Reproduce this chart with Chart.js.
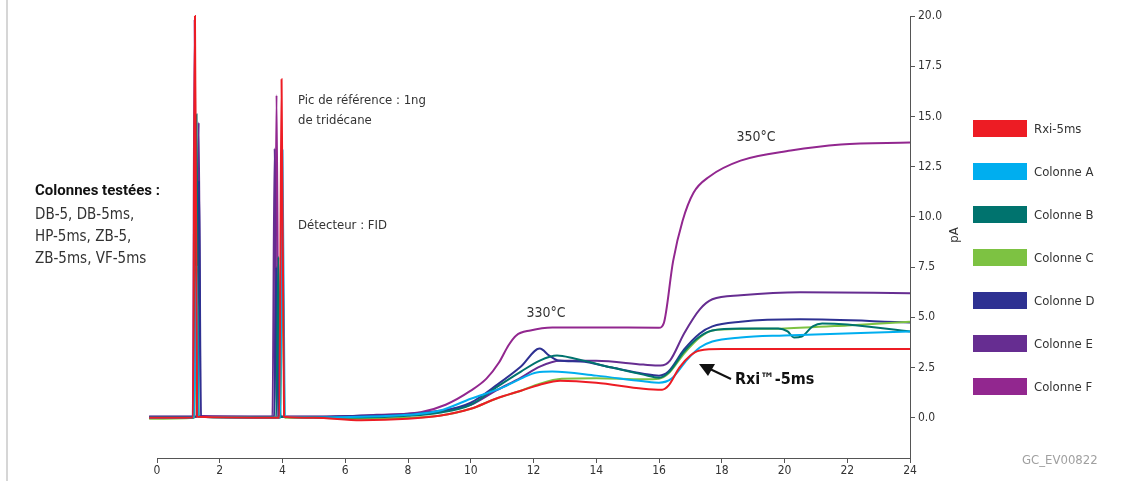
<!DOCTYPE html>
<html>
<head>
<meta charset="utf-8">
<script src="https://cdn.jsdelivr.net/npm/chart.js@4.4.1/dist/chart.umd.min.js"></script>
<style>
  html, body { margin: 0; padding: 0; background: #fff; overflow: hidden; }
  #chrom { display: block; }
</style>
</head>
<body>
<canvas id="chrom" width="1142" height="481"></canvas>
<script>
// time (min), signal (pA)
const rxi5ms = [
  [-0.25, 0.0], [1.15, 0.02], [1.21, 20.0], [1.28, 0.05], [3.9, 0.0], [3.97, 16.85], [4.05, 0.05],
  [5, 0.0], [6.5, -0.12], [8, -0.05], [9, 0.1], [10, 0.45], [10.8, 0.95], [11.6, 1.35], [12.2, 1.65],
  [12.85, 1.85], [14, 1.75], [15.5, 1.45], [16.1, 1.4], [16.3, 1.6], [16.65, 2.5], [17.0, 3.1],
  [17.3, 3.35], [18, 3.42], [20, 3.42], [24, 3.42]
];
const colonneA = [
  [-0.25, 0.0], [1.18, 0.02], [1.26, 7.6], [1.32, 0.05], [3.93, 0.0], [4.0, 13.3], [4.07, 0.05],
  [5, 0.02], [6.5, 0.05], [8, 0.15], [9, 0.35], [10, 0.95], [11, 1.5], [11.6, 1.95], [12.1, 2.26],
  [12.6, 2.3], [14, 2.1], [15.5, 1.82], [16.0, 1.75], [16.4, 1.95], [16.9, 2.9], [17.3, 3.5],
  [17.7, 3.8], [18.6, 4.0], [20, 4.1], [24, 4.3]
];
const colonneB = [
  [-0.25, 0.0], [1.18, 0.02], [1.26, 15.1], [1.32, 0.05], [3.8, 0.0], [3.87, 8.0], [3.94, 0.05],
  [5, 0.02], [6.5, 0.02], [8, 0.1], [9, 0.25], [10, 0.65], [10.8, 1.5], [11.6, 2.3], [12.2, 2.85],
  [12.75, 3.1], [13.3, 2.95], [14.5, 2.5], [15.5, 2.15], [16.0, 2.0], [16.3, 2.25], [16.8, 3.3],
  [17.3, 4.05], [17.7, 4.35], [18.6, 4.45], [19.8, 4.45], [20.1, 4.3], [20.3, 4.0], [20.55, 4.05],
  [20.9, 4.55], [21.2, 4.7], [22, 4.65], [24, 4.3]
];
const colonneC = [
  [-0.25, -0.05], [1.19, 0.0], [1.27, 7.0], [1.33, 0.05], [3.93, 0.0], [4.0, 8.0], [4.07, 0.0],
  [5, 0.0], [6.5, -0.05], [8, 0.0], [9, 0.1], [10, 0.45], [10.8, 0.95], [11.6, 1.35], [12.2, 1.7],
  [12.9, 1.94], [14, 1.97], [15.5, 1.92], [16.0, 1.95], [16.3, 2.2], [16.8, 3.2], [17.3, 4.0],
  [17.7, 4.35], [18.6, 4.42], [20, 4.45], [22, 4.6], [24, 4.78]
];
const colonneD = [
  [-0.25, 0.05], [1.27, 0.05], [1.34, 11.8], [1.4, 0.05], [3.74, 0.05], [3.8, 7.5], [3.87, 0.05],
  [5, 0.05], [6.5, 0.1], [8, 0.15], [9, 0.3], [10, 0.75], [10.8, 1.6], [11.6, 2.55], [12.2, 3.45],
  [12.5, 3.1], [12.8, 2.85], [13.5, 2.8], [14.5, 2.5], [15.5, 2.2], [16.0, 2.1], [16.3, 2.3],
  [16.8, 3.4], [17.3, 4.2], [17.7, 4.55], [18.6, 4.78], [20.5, 4.9], [24, 4.75]
];
const colonneE = [
  [-0.25, 0.05], [1.26, 0.05], [1.33, 14.7], [1.39, 0.05], [3.68, 0.05], [3.75, 13.4], [3.82, 0.05],
  [5, 0.05], [6.5, 0.1], [8, 0.2], [9, 0.35], [10, 0.65], [10.8, 1.35], [11.6, 2.0], [12.2, 2.55],
  [12.85, 2.84], [14, 2.84], [15.5, 2.65], [16.05, 2.6], [16.35, 2.85], [16.8, 4.2], [17.3, 5.4],
  [17.7, 5.9], [18.6, 6.1], [20.5, 6.25], [24, 6.2]
];
const colonneF = [
  [-0.25, 0.05], [1.14, 0.05], [1.2, 19.8], [1.27, 0.1], [3.74, 0.05], [3.81, 16.05], [3.88, 0.05],
  [5, 0.05], [7, 0.15], [8.4, 0.28], [9.2, 0.65], [10, 1.35], [10.5, 1.95], [10.9, 2.75], [11.2, 3.6],
  [11.45, 4.1], [11.9, 4.35], [12.6, 4.5], [14, 4.5], [16.0, 4.48], [16.15, 4.7], [16.45, 7.8],
  [16.75, 9.8], [17.1, 11.2], [17.6, 12.0], [18.6, 12.8], [20.2, 13.3], [21.8, 13.6], [24, 13.7]
];

const seriesNames = ["Rxi-5ms", "Colonne A", "Colonne B", "Colonne C", "Colonne D", "Colonne E", "Colonne F"];
const seriesData = [rxi5ms, colonneA, colonneB, colonneC, colonneD, colonneE, colonneF];
const seriesColors = ["#ed1c24", "#00aeef", "#00736e", "#7dc242", "#2e3192", "#662d91", "#92278f"];
const yTicks = [0, 2.5, 5, 7.5, 10, 12.5, 15, 17.5, 20];

const FONT = '"Liberation Sans Narrow", "DejaVu Sans Condensed", "Roboto Condensed", "DejaVu Sans", sans-serif';
const BOLD_FONT = 'Roboto, "Liberation Sans", sans-serif';

const overlay = {
  id: "overlay",
  afterDraw(chart) {
    const ctx = chart.ctx;
    ctx.save();

    // thin frame line on the left edge
    ctx.strokeStyle = "#c8c8c8";
    ctx.lineWidth = 1.5;
    ctx.beginPath();
    ctx.moveTo(7, 0);
    ctx.lineTo(7, 481);
    ctx.stroke();

    ctx.fillStyle = "#333";
    ctx.textBaseline = "middle";
    ctx.textAlign = "left";

    ctx.font = "13px " + FONT;
    ctx.fillText("Pic de référence : 1ng", 298, 101);
    ctx.fillText("de tridécane", 298, 121);
    ctx.fillText("Détecteur : FID", 298, 226);

    ctx.font = "bold 15px " + BOLD_FONT;
    ctx.fillStyle = "#111";
    ctx.fillText("Colonnes testées :", 35, 191);
    ctx.font = "15px " + FONT;
    ctx.fillStyle = "#333";
    ctx.fillText("DB-5, DB-5ms,", 35, 215);
    ctx.fillText("HP-5ms, ZB-5,", 35, 237);
    ctx.fillText("ZB-5ms, VF-5ms", 35, 259);

    ctx.font = "14px " + FONT;
    ctx.textAlign = "center";
    ctx.fillText("330°C", 546, 313);
    ctx.fillText("350°C", 756, 137);

    // arrow pointing to the Rxi-5ms trace
    ctx.strokeStyle = "#111";
    ctx.fillStyle = "#111";
    ctx.lineWidth = 2;
    ctx.beginPath();
    ctx.moveTo(731, 379);
    ctx.lineTo(710, 369);
    ctx.stroke();
    ctx.beginPath();
    ctx.moveTo(699, 364);
    ctx.lineTo(715, 364);
    ctx.lineTo(708, 376);
    ctx.closePath();
    ctx.fill();
    ctx.font = "bold 16px " + FONT;
    ctx.textAlign = "left";
    ctx.fillText("Rxi™-5ms", 735, 380);

    // legend
    ctx.font = "13px " + FONT;
    chart.data.datasets.forEach((ds, i) => {
      const cy = 128.5 + i * 43;
      ctx.fillStyle = ds.borderColor;
      ctx.fillRect(973, cy - 8.5, 54, 17);
      ctx.fillStyle = "#333";
      ctx.fillText(ds.label, 1034, cy + 1);
    });

    // y axis title
    ctx.save();
    ctx.translate(955, 235);
    ctx.rotate(-Math.PI / 2);
    ctx.textAlign = "center";
    ctx.font = "13px " + FONT;
    ctx.fillStyle = "#333";
    ctx.fillText("pA", 0, 0);
    ctx.restore();

    ctx.font = "13px " + FONT;
    ctx.fillStyle = "#a0a0a0";
    ctx.fillText("GC_EV00822", 1022, 461);

    ctx.restore();
  }
};

new Chart(document.getElementById("chrom").getContext("2d"), {
  type: "line",
  data: {
    datasets: seriesData.map((pts, i) => ({
      label: seriesNames[i],
      data: pts.map(([x, y]) => ({ x, y })),
      borderColor: seriesColors[i],
      backgroundColor: seriesColors[i],
      borderWidth: 2,
      pointRadius: 0,
      cubicInterpolationMode: "monotone",
      clip: 12,
    })),
  },
  options: {
    responsive: false,
    animation: false,
    devicePixelRatio: 1,
    layout: { padding: { left: 157, top: 16, right: 0, bottom: 0 } },
    plugins: { legend: { display: false }, tooltip: { enabled: false } },
    scales: {
      x: {
        type: "linear",
        min: 0,
        max: 24,
        afterFit: (scale) => { scale.height = 23; },
        grid: { display: true, drawOnChartArea: false, drawTicks: true, tickLength: 5, color: "#555" },
        border: { display: true, color: "#555", width: 1 },
        ticks: { stepSize: 2, color: "#333", font: { size: 12, family: FONT }, padding: 1, maxRotation: 0 },
      },
      y: {
        type: "linear",
        position: "right",
        min: -2,
        max: 20,
        afterFit: (scale) => { scale.width = 232; },
        afterBuildTicks: (scale) => { scale.ticks = yTicks.map((v) => ({ value: v })); },
        grid: { display: true, drawOnChartArea: false, drawTicks: true, tickLength: 5, color: "#555" },
        border: { display: true, color: "#555", width: 1 },
        ticks: {
          color: "#333",
          font: { size: 12, family: FONT },
          padding: 3,
          callback: (v) => Number(v).toFixed(1),
        },
      },
    },
  },
  plugins: [overlay],
});
</script>
</body>
</html>
